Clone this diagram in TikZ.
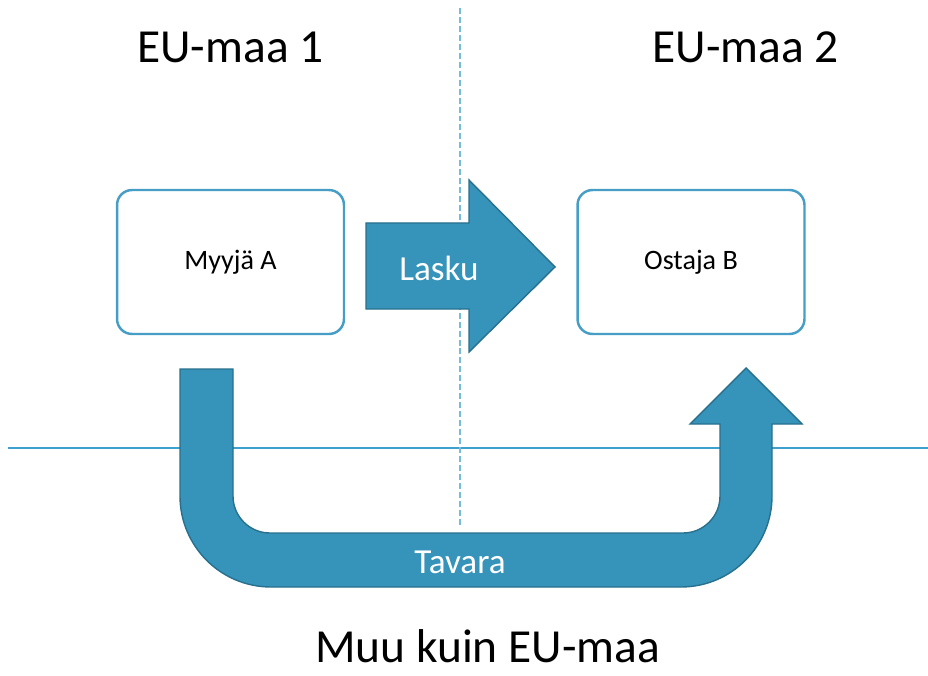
\documentclass[tikz,border=0pt]{standalone}
\usepackage{fontspec}
\setmainfont{Carlito}
\usetikzlibrary{calc}
\definecolor{arrowblue}{RGB}{54,148,186}
\definecolor{arrowedge}{RGB}{40,112,142}
\definecolor{boxblue}{RGB}{70,158,198}
\definecolor{lineblue}{RGB}{62,160,204}
\definecolor{dashblue}{RGB}{118,188,218}
\tikzset{
  party/.style={draw=boxblue, line width=1.4pt, rounded corners=0.3cm, fill=white, minimum width=4.54cm, minimum height=2.88cm, font=\fontsize{16}{19}\selectfont},
  blockarrow/.style={fill=arrowblue, draw=arrowedge, line width=0.8pt, line join=miter},
  arrowtext/.style={text=white, font=\fontsize{20}{24}\selectfont},
  countrytext/.style={anchor=base, inner sep=0pt, font=\fontsize{27}{32}\selectfont}
}

\begin{document}
\begin{tikzpicture}[x=0.02cm, y=-0.02cm]
\useasboundingbox (0,0) rectangle (928,675);
\draw[lineblue, line width=0.8pt] (8,448)--(928,448);
\draw[dashblue, line width=0.9pt, dash pattern=on 3.4pt off 1.7pt] (460,8)--(460,525);
\node[countrytext] (maa1) at (230.5,63) {EU-maa 1};
\node[countrytext] (maa2) at (745.5,63) {EU-maa 2};
\node[countrytext] (muu) at (487.5,662) {Muu kuin EU-maa};
\node[party] (myyja) at (230.5,262) {Myyjä A};
\node[party] (ostaja) at (691,262) {Ostaja B};
\draw[blockarrow] (366,223)--(469,223)--(469,180)--(555,267)--(469,352)--(469,309)--(366,309)--cycle;
\node[arrowtext] (lasku) at (439,268) {Lasku};
\draw[blockarrow] (180,369)--(233,369)--(233,496) arc[start angle=180, end angle=90, radius=37]
  --(683,533) arc[start angle=90, end angle=0, radius=37]
  --(720,424)--(690,424)--(746,368)--(802,424)--(772,424)
  --(772,496) arc[start angle=0, end angle=90, radius=91]
  --(271,587) arc[start angle=90, end angle=180, radius=91]--cycle;
\node[arrowtext] (tavara) at (460,562) {Tavara};
\end{tikzpicture}
\end{document}
